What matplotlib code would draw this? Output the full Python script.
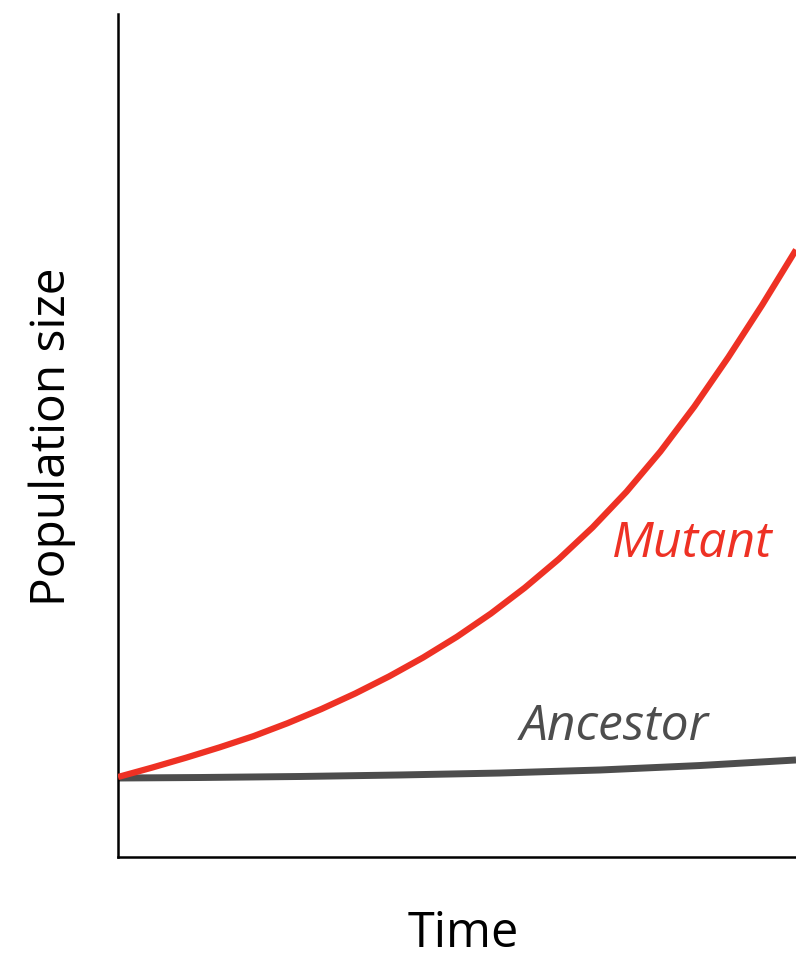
import matplotlib
matplotlib.use("Agg")
import matplotlib.pyplot as plt

# Data (arbitrary units)
time = [0, 0.5, 1.0, 1.5, 2.0, 2.5, 3.0, 3.5, 4.0, 4.5, 5.0,
        5.5, 6.0, 6.5, 7.0, 7.5, 8.0, 8.5, 9.0, 9.5, 10.0]
mutant = [9.49, 10.60, 11.77, 13.01, 14.34, 15.87, 17.55, 19.40, 21.43, 23.66, 26.13,
          28.88, 31.94, 35.33, 39.10, 43.33, 48.10, 53.43, 59.26, 65.47, 72.03]
anc_time = [0, 1.21, 2.68, 4.16, 5.63, 7.11, 8.58, 10.0]
ancestor = [9.37, 9.43, 9.55, 9.73, 9.96, 10.32, 10.85, 11.51]

RED = "#EE3124"
GRAY = "#4D4D4D"
FONT = ["Open Sans", "DejaVu Sans"]

fig = plt.figure(figsize=(7.96, 9.6), dpi=100)
ax = fig.add_axes([118/796, 103/960, 1 - 118/796, (857-14)/960])
ax.plot(anc_time, ancestor, color=GRAY, lw=5.0, solid_capstyle="butt",
        solid_joinstyle="round", zorder=2)
ax.plot(time, mutant, color=RED, lw=4.5, solid_capstyle="butt",
        solid_joinstyle="round", zorder=3)
ax.set_xlim(0, 10)
ax.set_ylim(0, 100)
ax.set_xticks([])
ax.set_yticks([])
for s in ["top", "right"]:
    ax.spines[s].set_visible(False)
for s in ["left", "bottom"]:
    ax.spines[s].set_linewidth(1.8)
    ax.spines[s].set_color("black")

ax.text(7.28, 35.6, "Mutant", color=RED, fontsize=36, style="italic", family=FONT,
        ha="left", va="baseline")
ax.text(5.93, 13.9, "Ancestor", color=GRAY, fontsize=35.8, style="italic", family=FONT,
        ha="left", va="baseline")

fig.text(52/796, 1 - 437/960, "Population size", rotation=90, fontsize=34.5, family=FONT,
         ha="center", va="center")
fig.text(463/796, 1 - 934/960, "Time", fontsize=35, family=FONT, ha="center", va="center")

fig.savefig("out.png", dpi=100)
